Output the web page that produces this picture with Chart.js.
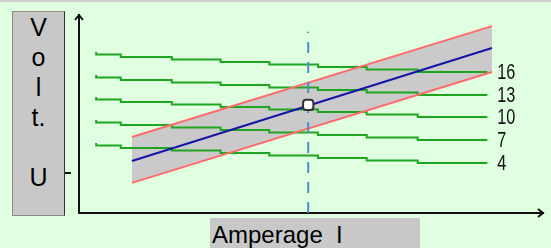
<!DOCTYPE html>
<html>
<head>
<meta charset="utf-8">
<script src="https://cdn.jsdelivr.net/npm/chart.js@4.4.0/dist/chart.umd.min.js"></script>
<style>
  html, body { margin: 0; padding: 0; background: #e0ffe0; }
  #wrap { position: relative; width: 551px; height: 248px; overflow: hidden; background: #e0ffe0; }
  #topstrip { position: absolute; left: 0; top: 0; width: 551px; height: 2px; background: #cfcfcf; }
  canvas { position: absolute; left: 0; top: 0; }
  .box { position: absolute; background: #c8c8c8; box-sizing: border-box; font-family: "Liberation Sans", Arial, sans-serif; color: #000; }
  #ylab { left: 12px; top: 11px; width: 53px; height: 205px; border: 1px solid #8a8a8a; border-right: 1px solid #333; text-align: center; font-size: 25px; line-height: 30px; }
  #xlab { left: 210px; top: 218px; width: 210px; height: 30px; font-size: 24px; line-height: 30px; padding: 2px 0 0 2px; white-space: pre; }
</style>
</head>
<body>
<div id="wrap">
  <div id="topstrip"></div>
  <canvas id="grafico" width="551" height="248"></canvas>
  <div class="box" id="ylab">V<br>o<br>l<br>t.<br>&nbsp;<br>U</div>
  <div class="box" id="xlab">Amperage  I</div>
</div>
<script>
// current (x) at the step edges of the characteristic curves
const stepCurrents = [3.7, 9, 20, 30.5, 41, 51.5, 62, 73, 83.5, 88];
const curveLabels = ["16", "13", "10", "7", "4"];
const curve16 = [81.3, 80.1, 78.8, 77.5, 76.3, 75.0, 73.7, 72.5, 71.2];
const curve13 = [69.7, 68.4, 67.2, 65.9, 64.6, 63.4, 62.1, 60.9, 59.6];
const curve10 = [58.6, 57.3, 56.1, 54.8, 53.5, 52.3, 51.0, 49.7, 48.5];
const curve7 = [47.0, 45.7, 44.4, 43.2, 41.9, 40.7, 39.4, 38.1, 36.9];
const curve4 = [35.4, 34.1, 32.8, 31.6, 30.3, 29.0, 27.8, 26.5, 25.3];
const curves = [curve16, curve13, curve10, curve7, curve4];

// working line and its tolerance band
const bandCurrents = [11.4, 89.0];
const workLine = [26.3, 83.3];
const bandUpper = [38.4, 94.4];
const bandLower = [15.2, 71.2];

// operating point
const opCurrent = 49.4;
const opVoltage = 54.6;
const opLineTop = 91.5;
const yTickValue = 20.2;

const stepPoints = (vals) =>
  stepCurrents.map((x, i) => ({ x, y: vals[Math.min(i, vals.length - 1)] }));
const bandPoints = (vals) => bandCurrents.map((x, i) => ({ x, y: vals[i] }));

const datasets = curves.map((vals, i) => ({
  label: curveLabels[i],
  data: stepPoints(vals),
  stepped: "after",
  borderColor: "#1fa51f",
  borderWidth: 2,
  pointRadius: 0,
  fill: false,
  order: 4,
}));

const idxUpper = datasets.length;
datasets.push({
  label: "upper",
  data: bandPoints(bandUpper),
  borderColor: "#ff6a6a",
  borderWidth: 2,
  pointRadius: 0,
  fill: idxUpper + 1,
  backgroundColor: "#cacaca",
  order: 3,
});
datasets.push({
  label: "lower",
  data: bandPoints(bandLower),
  borderColor: "#ff6a6a",
  borderWidth: 2,
  pointRadius: 0,
  fill: false,
  order: 3,
});
datasets.push({
  label: "work",
  data: bandPoints(workLine),
  borderColor: "#1414a8",
  borderWidth: 2,
  pointRadius: 0,
  fill: false,
  order: 2,
});
datasets.push({
  label: "opline",
  data: [{ x: opCurrent, y: 0 }, { x: opCurrent, y: opLineTop }],
  borderColor: "#4a8ec8",
  borderWidth: 2,
  borderDash: [11, 9],
  pointRadius: 0,
  fill: false,
  order: 1,
});
datasets.push({
  label: "op",
  data: [{ x: opCurrent, y: opVoltage }],
  showLine: false,
  pointStyle: "rectRounded",
  pointRadius: 6,
  pointBackgroundColor: "#ffffff",
  pointBorderColor: "#333333",
  pointBorderWidth: 2,
  order: 0,
});

// arrows, curve numbers and the lone y tick
const extras = {
  id: "extras",
  afterDatasetsDraw(chart) {
    const { ctx, chartArea, scales } = chart;
    ctx.save();
    ctx.strokeStyle = "#111";
    ctx.lineWidth = 2;
    ctx.beginPath();
    ctx.moveTo(chartArea.left - 4, chartArea.top + 5);
    ctx.lineTo(chartArea.left, chartArea.top);
    ctx.lineTo(chartArea.left + 4, chartArea.top + 5);
    ctx.moveTo(chartArea.right - 5, chartArea.bottom - 4);
    ctx.lineTo(chartArea.right, chartArea.bottom);
    ctx.lineTo(chartArea.right - 5, chartArea.bottom + 4);
    ctx.stroke();

    const ty = scales.y.getPixelForValue(yTickValue);
    ctx.beginPath();
    ctx.moveTo(chartArea.left - 14, ty);
    ctx.lineTo(chartArea.left - 8, ty);
    ctx.stroke();

    ctx.fillStyle = "#111";
    ctx.font = '22px "Liberation Sans", Arial, sans-serif';
    ctx.textBaseline = "middle";
    const lx = scales.x.getPixelForValue(stepCurrents[stepCurrents.length - 1]) + 10;
    curves.forEach((vals, i) => {
      const ly = scales.y.getPixelForValue(vals[vals.length - 1]);
      ctx.save();
      ctx.translate(lx, ly + 1);
      ctx.scale(0.74, 1);
      ctx.fillText(curveLabels[i], 0, 0);
      ctx.restore();
    });
    ctx.restore();
  },
};

const axisOpts = {
  min: 0,
  max: 100,
  grid: { display: false, drawTicks: false },
  ticks: { display: false },
  border: { display: true, color: "#111", width: 2 },
};

new Chart(document.getElementById("grafico"), {
  type: "line",
  data: { datasets },
  options: {
    responsive: false,
    animation: false,
    layout: { padding: { left: 79, top: 15, right: 8, bottom: 35 } },
    plugins: {
      legend: { display: false },
      tooltip: { enabled: false },
      filler: { drawTime: "beforeDatasetsDraw" },
    },
    scales: {
      x: { type: "linear", ...axisOpts },
      y: { type: "linear", ...axisOpts },
    },
  },
  plugins: [extras],
});
</script>
</body>
</html>
